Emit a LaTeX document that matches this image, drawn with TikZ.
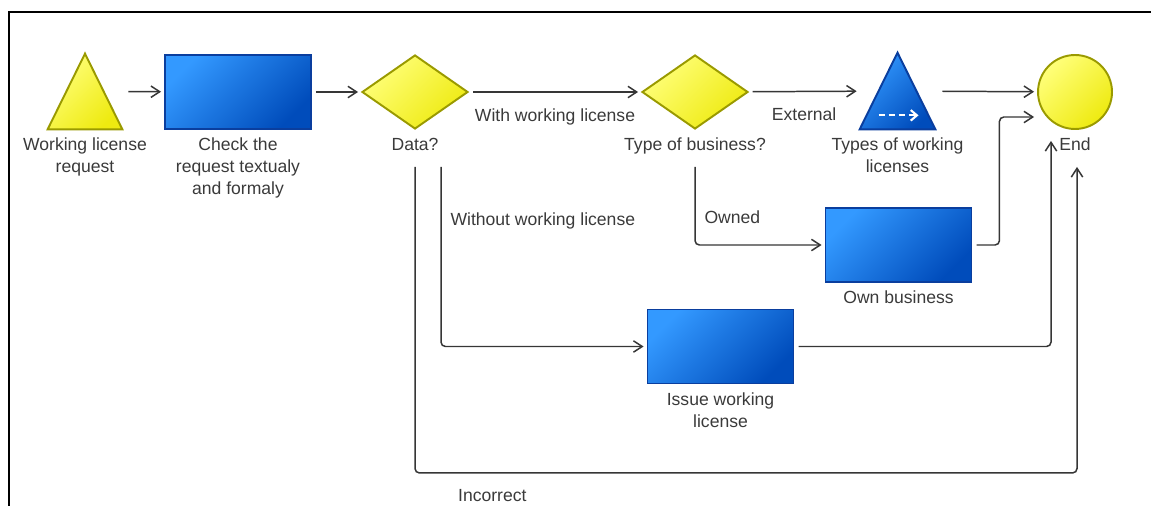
\documentclass[tikz,border=0pt]{standalone}
\usepackage{fontspec}
\setmainfont{Liberation Sans}
\usetikzlibrary{shapes.geometric,arrows.meta,calc}

\definecolor{yellite}{HTML}{FFFF7A}
\definecolor{yelfill}{HTML}{EEEA10}
\definecolor{yelline}{HTML}{9A9A00}
\definecolor{bluelite}{HTML}{3399FF}
\definecolor{bluedark}{HTML}{004CBB}
\definecolor{blueline}{HTML}{0A3E9E}
\definecolor{txt}{HTML}{3A3A3A}
\definecolor{flowc}{HTML}{363636}

\tikzset{
  task/.style={rectangle, draw=blueline, line width=1.1pt, top color=bluelite,
    bottom color=bluedark, shading angle=45, minimum width=2.92cm,
    minimum height=1.48cm, inner sep=0pt},
  gate/.style={diamond, draw=yelline, line width=1.1pt, top color=yellite,
    bottom color=yelfill, shading angle=45, aspect=1.43,
    minimum width=2.12cm, minimum height=1.48cm, inner sep=0pt},
  stopnode/.style={circle, draw=yelline, line width=1.1pt, top color=yellite,
    bottom color=yelfill, shading angle=45, minimum size=1.48cm, inner sep=0pt},
  tribox/.style={rectangle, minimum width=#1, minimum height=1.5cm, inner sep=0pt},
  ytri/.style={draw=yelline, line width=1.1pt, top color=yellite,
    bottom color=yelfill, shading angle=45},
  btri/.style={draw=blueline, line width=1.1pt, top color=bluelite,
    bottom color=bluedark, shading angle=45},
  lbl/.style={text=txt, align=center, anchor=north, inner sep=1pt},
  flow/.style={draw=flowc, line width=0.85pt, rounded corners=2.5pt,
    -{Straight Barb[length=5pt,width=6.5pt]}, shorten <=2.3pt, shorten >=1.7pt}
}

\begin{document}
\begin{tikzpicture}[x=0.02cm, y=-0.02cm, font=\fontsize{10}{12.5}\selectfont]
\useasboundingbox (0,0) rectangle (1151,506);
% Frame
\draw[line width=1.1pt] (9,506) -- (9,12) -- (1151,12);

% Shapes
\node[tribox=1.48cm] (req) at (85,91.5) {};
\draw[ytri] (req.north) -- (req.south east) -- (req.south west) -- cycle;
\node[task] (chk) at (238,92) {};
\node[gate] (data) at (415,92) {};
\node[gate] (type) at (695,92) {};
\node[tribox=1.5cm, minimum height=1.52cm] (ext) at (897.5,91) {};
\draw[btri] (ext.north) -- (ext.south east) -- (ext.south west) -- cycle;
\draw[white, line width=1.2pt, dash pattern=on 3.5pt off 2.2pt,
  -{Straight Barb[length=3.5pt,width=6pt]}] ($(ext.south)+(-19,-14)$) -- ++(40,0);
\node[stopnode] (end) at (1075,92) {};
\node[task] (own) at (898.5,245) {};
\node[task] (iss) at (720.5,346.5) {};

% Labels
\node[lbl] (req-l) at ($(req.south)+(0,6)$) {Working license\\request};
\node[lbl] (chk-l) at ($(chk.south)+(0,6)$) {Check the\\request textualy\\and formaly};
\node[lbl] (data-l) at ($(data.south)+(0,6)$) {Data?};
\node[lbl] (type-l) at ($(type.south)+(0,6)$) {Type of business?};
\node[lbl] (ext-l) at ($(ext.south)+(0,6)$) {Types of working\\licenses};
\node[lbl] (end-l) at ($(end.south)+(0,6)$) {End};
\node[lbl] (own-l) at ($(own.south)+(0,6)$) {Own business};
\node[lbl] (iss-l) at ($(iss.south)+(0,6)$) {Issue working\\license};

% Flows
\draw[flow, shorten <=3.4pt] (req) -- (chk);
\draw[flow] (chk) -- (data);
\draw[flow] (data) -- node[lbl, text=txt, pos=0.5, yshift=-8pt] {With working license} (type);
\draw[flow] (type) -- node[lbl, text=txt, pos=0.5, yshift=-8pt] {External} (ext);
\draw[flow, shorten <=4pt] (ext) -- (end);
\draw[flow] ($(data.south)+(0,33)$) -- ($(data.south)+(0,343)$) coordinate (inc)
  -| ($(end.south)+(2,34)$);
\node[lbl, anchor=north west] (inc-l) at ($(inc)+(41,14)$) {Incorrect};
\draw[flow] ($(data.south)+(26,33)$) |- node[lbl, anchor=west, pos=0.157, xshift=4pt]
  {Without working license} (iss);
\draw[flow] ($(type.south)+(0,33)$) |- node[lbl, anchor=west, pos=0.33, xshift=4pt]
  {Owned} (own);
\draw[flow] (own.east) -- ++(27,0) |- ($(end.west)+(0,25)$);
\draw[flow] (iss) -| ($(end.south)+(-24,8)$);
\end{tikzpicture}
\end{document}
